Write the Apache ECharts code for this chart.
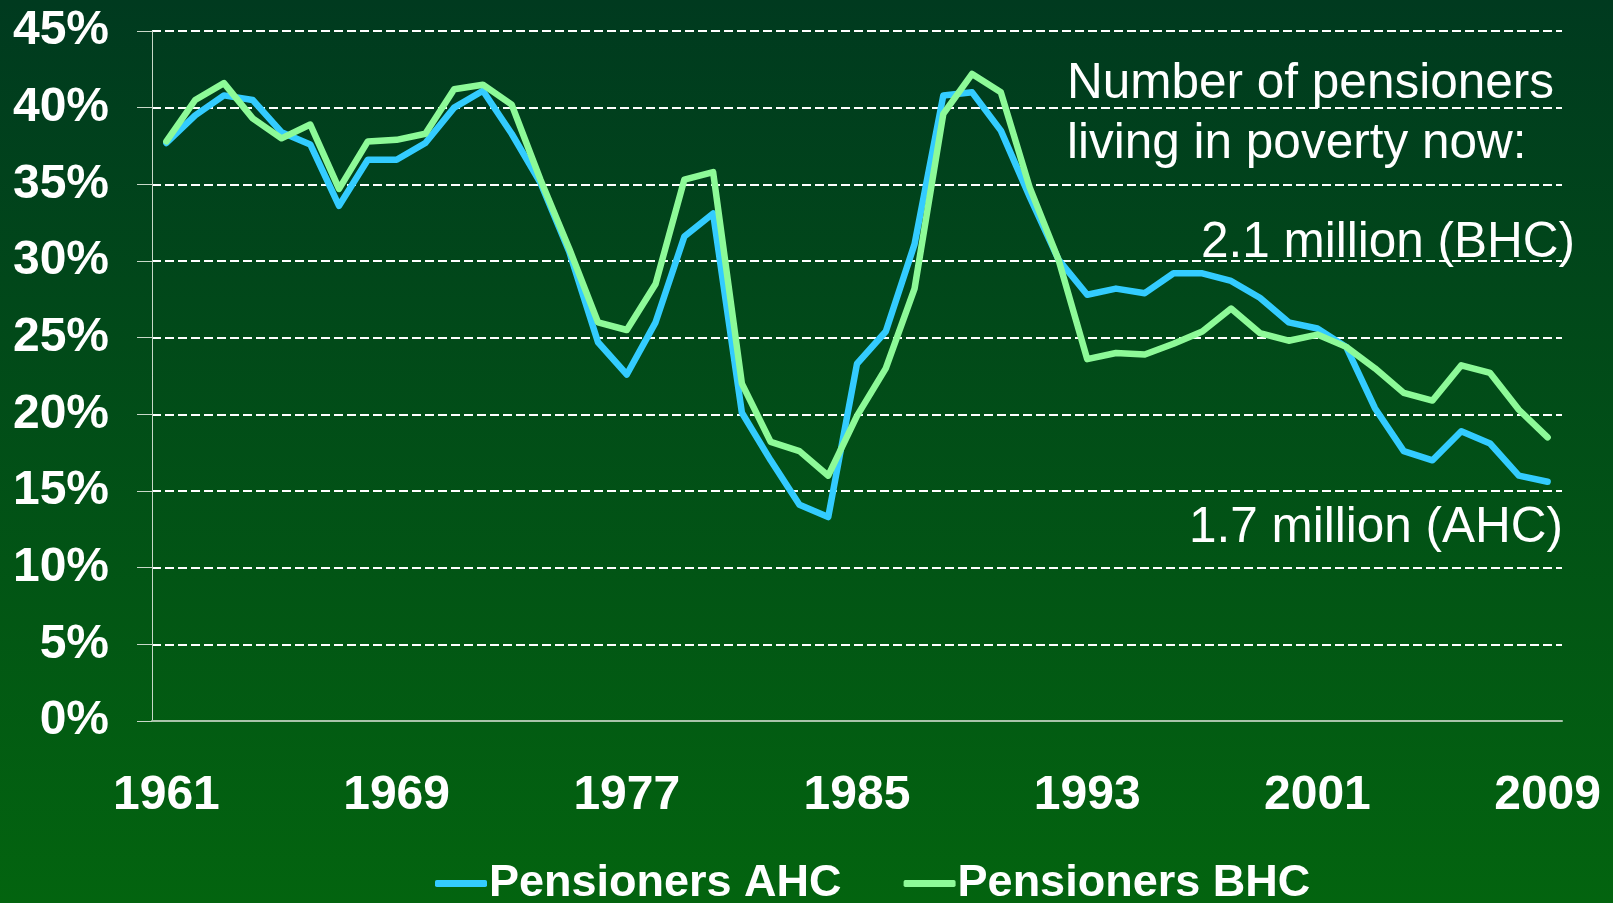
<!DOCTYPE html>
<html>
<head>
<meta charset="utf-8">
<title>Pensioners in poverty</title>
<script src="https://cdn.jsdelivr.net/npm/echarts@6/dist/echarts.min.js"></script>
<style>
    html, body { margin: 0; padding: 0; }
    #main { width: 1613px; height: 903px; }
</style>
</head>
<body>
<div id="main"></div>
<script>
// years on the x axis
const years = [];
for (let y = 1961; y <= 2009; y++) years.push(String(y));

// share of pensioners in poverty, after housing costs (%)
const ahcData = [
    37.7, 39.5, 40.8, 40.5, 38.4, 37.6, 33.6, 36.6, 36.6, 37.7,
    40.0, 41.1, 38.3, 35.1, 30.6, 24.7, 22.6, 26.0, 31.6, 33.1,
    20.1, 17.0, 14.1, 13.3, 23.3, 25.4, 31.1, 40.8, 41.0, 38.5,
    34.2, 30.1, 27.8, 28.2, 27.9, 29.2, 29.2, 28.7, 27.6, 26.0,
    25.6, 24.4, 20.4, 17.6, 17.0, 18.9, 18.1, 16.0, 15.6
];

// share of pensioners in poverty, before housing costs (%)
const bhcData = [
    37.8, 40.5, 41.6, 39.3, 38.0, 38.9, 34.7, 37.8, 37.9, 38.3,
    41.2, 41.5, 40.2, 35.3, 30.8, 26.0, 25.5, 28.5, 35.3, 35.8,
    22.0, 18.2, 17.6, 16.0, 19.9, 23.0, 28.2, 39.6, 42.2, 41.0,
    34.8, 30.1, 23.6, 24.0, 23.9, 24.6, 25.4, 26.9, 25.3, 24.8,
    25.2, 24.4, 23.0, 21.4, 20.9, 23.2, 22.7, 20.3, 18.5
];

const seriesNames = ['Pensioners AHC', 'Pensioners BHC'];
const seriesColors = ['#33ccff', '#8dfa98'];

const yTicks = [0, 5, 10, 15, 20, 25, 30, 35, 40, 45];

const noteLines = ['Number of pensioners', 'living in poverty now:'];
const noteBhc = '2.1 million (BHC)';
const noteAhc = '1.7 million (AHC)';

const fontName = "'Liberation Sans', Arial, sans-serif";

function drawChart() {
    var dom = document.getElementById('main');
    var myChart = echarts.init(dom, null, { renderer: 'canvas' });

    var option = {
        animation: false,
        backgroundColor: {
            type: 'linear', x: 0, y: 0, x2: 0, y2: 1,
            colorStops: [
                { offset: 0, color: '#003a1f' },
                { offset: 1, color: '#03640f' }
            ]
        },
        grid: { left: 152, right: 51, top: 31, bottom: 182 },
        legend: {
            data: seriesNames,
            left: 430,
            top: 856,
            itemWidth: 52,
            itemHeight: 7,
            itemGap: 62,
            icon: 'roundRect',
            textStyle: {
                color: '#fff',
                fontSize: 45,
                fontWeight: 'bold',
                fontFamily: fontName,
                padding: [0, 0, 0, -3]
            }
        },
        xAxis: {
            type: 'category',
            data: years,
            boundaryGap: true,
            axisLine: { lineStyle: { color: '#a9c4aa', width: 2 } },
            axisTick: {
                interval: 0,
                length: 14,
                lineStyle: { color: '#d8e6d8', width: 1 }
            },
            axisLabel: {
                interval: 7,
                margin: 51,
                color: '#fff',
                fontSize: 48,
                fontWeight: 'bold',
                fontFamily: fontName
            }
        },
        yAxis: {
            type: 'value',
            min: yTicks[0],
            max: yTicks[yTicks.length - 1],
            interval: 5,
            axisLine: { show: true, lineStyle: { color: '#c8d8c8', width: 1 } },
            axisTick: { show: true, length: 15, lineStyle: { color: '#c8d8c8' } },
            axisLabel: {
                margin: 43,
                padding: [8, 0, 0, 0],
                color: '#fff',
                fontSize: 48,
                fontWeight: 'bold',
                fontFamily: fontName,
                formatter: '{value}%'
            },
            splitLine: {
                lineStyle: { color: '#ffffff', width: 2, type: [9, 4] }
            }
        },
        series: [
            {
                name: seriesNames[0],
                type: 'line',
                data: ahcData,
                showSymbol: false,
                color: seriesColors[0],
                lineStyle: { width: 6.5, cap: 'round', join: 'round' }
            },
            {
                name: seriesNames[1],
                type: 'line',
                data: bhcData,
                showSymbol: false,
                color: seriesColors[1],
                lineStyle: { width: 6.5, cap: 'round', join: 'round' }
            }
        ],
        graphic: [
            {
                type: 'text',
                left: 1067,
                top: 54,
                style: {
                    text: noteLines.join('\n'),
                    fill: '#fff',
                    fontSize: 49.5,
                    lineHeight: 60,
                    fontFamily: fontName
                }
            },
            {
                type: 'text',
                left: 1201,
                top: 218,
                style: { text: noteBhc, fill: '#fff', fontSize: 49.5, fontFamily: fontName }
            },
            {
                type: 'text',
                left: 1189,
                top: 503,
                style: { text: noteAhc, fill: '#fff', fontSize: 49.5, fontFamily: fontName }
            }
        ]
    };

    myChart.setOption(option);
    window.addEventListener('resize', myChart.resize);
}

drawChart();
</script>
</body>
</html>
